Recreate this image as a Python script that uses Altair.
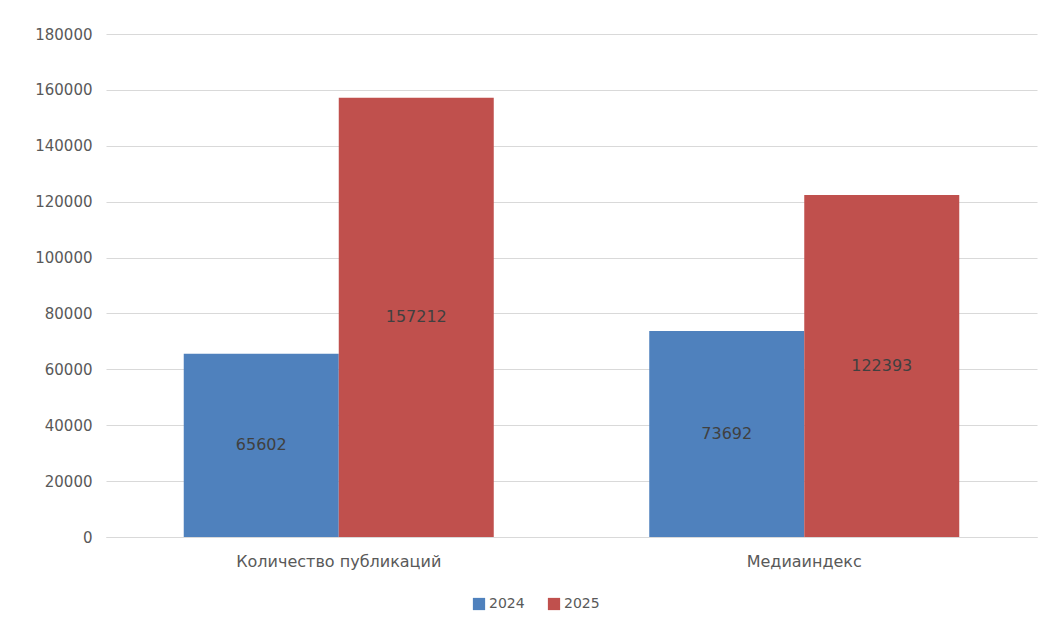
import altair as alt
import pandas as pd

categories = ["Количество публикаций", "Медиаиндекс"]
years = ["2024", "2025"]
values_2024 = [65602, 73692]
values_2025 = [157212, 122393]
y_ticks = [0, 20000, 40000, 60000, 80000, 100000, 120000, 140000, 160000, 180000]
colors = ["#4F81BD", "#C0504D"]

rows = []
for i, c in enumerate(categories):
    rows.append({"cat": c, "year": years[0], "value": values_2024[i]})
    rows.append({"cat": c, "year": years[1], "value": values_2025[i]})
df = pd.DataFrame(rows)

FONT = "DejaVu Sans"

base = alt.Chart(df).encode(
    x=alt.X("cat:N", sort=categories, title=None,
            scale=alt.Scale(paddingInner=0.334, paddingOuter=0.167),
            axis=alt.Axis(labelAngle=0, ticks=False, domain=True, domainColor="#D9D9D9",
                          labelFontSize=16, labelColor="#595959", labelFont=FONT,
                          labelPadding=16, labelLimit=0)),
    xOffset=alt.XOffset("year:N", sort=years, scale=alt.Scale(paddingInner=0, paddingOuter=0)),
)

bars = base.mark_bar(size=155).encode(
    y=alt.Y("value:Q", title=None,
            scale=alt.Scale(domain=[0, 180000], nice=False),
            axis=alt.Axis(values=y_ticks, ticks=False, domain=False, gridColor="#D9D9D9",
                          labelFontSize=15, labelColor="#595959", labelFont=FONT,
                          labelPadding=14, format="d")),
    color=alt.Color("year:N", sort=years, title=None,
                    scale=alt.Scale(domain=years, range=colors),
                    legend=alt.Legend(orient="none", legendX=366, legendY=563, direction="horizontal",
                                      symbolType="square", symbolSize=150, symbolStrokeWidth=0,
                                      labelFontSize=14, labelColor="#595959", labelFont=FONT,
                                      columnPadding=22, labelOffset=3)),
)

labels = base.transform_calculate(mid="datum.value / 2").mark_text(
    fontSize=16, color="#404040", font=FONT, baseline="middle", align="center"
).encode(
    y=alt.Y("mid:Q"),
    text=alt.Text("value:Q", format="d"),
)

chart = alt.layer(bars, labels).properties(
    width=931, height=503,
    autosize=alt.AutoSizeParams(type="none"),
    padding={"left": 98, "top": 26, "right": 1, "bottom": 80},
).configure(background="white").configure_view(stroke=None)

chart.save("out.html", embed_options={"renderer": "svg", "actions": False})
